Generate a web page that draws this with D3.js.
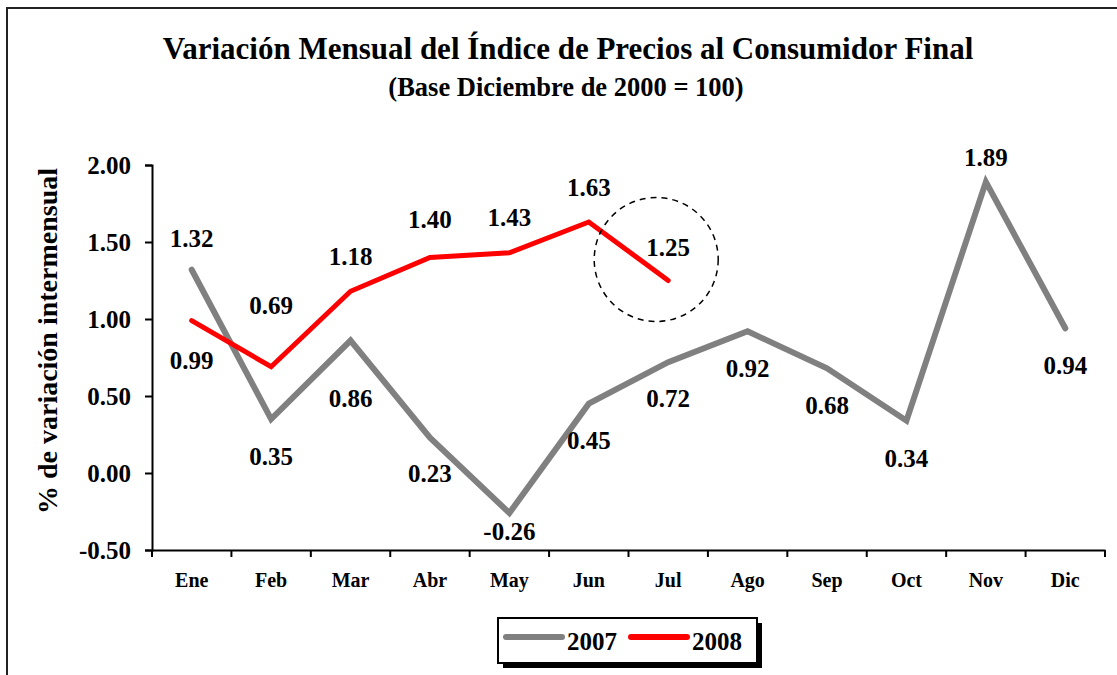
<!DOCTYPE html>
<html>
<head>
<meta charset="utf-8">
<script src="https://cdn.jsdelivr.net/npm/d3@7"></script>
<style>
  body { margin: 0; background: #fff; }
  svg, svg text { font-family: "Liberation Serif", "Times New Roman", serif; font-weight: bold; }
</style>
</head>
<body>
<svg id="svg" width="1117" height="675"></svg>
<script>
const months = ["Ene", "Feb", "Mar", "Abr", "May", "Jun", "Jul", "Ago", "Sep", "Oct", "Nov", "Dic"];
const values2007 = [1.32, 0.35, 0.86, 0.23, -0.26, 0.45, 0.72, 0.92, 0.68, 0.34, 1.89, 0.94];
const values2008 = [0.99, 0.69, 1.18, 1.40, 1.43, 1.63, 1.25];
const yTicks = [-0.5, 0, 0.5, 1, 1.5, 2];

// label baseline offsets from each point (px), to keep them clear of the lines
const offset2007 = [-23, 46, 66, 44, 27, 45, 45, 46, 46, 46, -16, 46];
const offset2008 = [48, -53, -26, -29, -27, -26, -25];

const fmt = d => d.toFixed(2);

const svg = d3.select("#svg");

// outer frame
svg.append("rect")
    .attr("x", 7).attr("y", 8)
    .attr("width", 1130).attr("height", 700)
    .attr("fill", "none")
    .attr("stroke", "#222")
    .attr("stroke-width", 2);

svg.append("text")
    .attr("x", 568).attr("y", 59)
    .attr("text-anchor", "middle")
    .attr("font-size", 31)
    .text("Variación Mensual del Índice de Precios al Consumidor Final");

svg.append("text")
    .attr("x", 566).attr("y", 96)
    .attr("text-anchor", "middle")
    .attr("font-size", 26.5)
    .text("(Base Diciembre de 2000 = 100)");

const x = d3.scaleBand().domain(months).range([152, 1105]);
const y = d3.scaleLinear().domain([-0.5, 2]).range([550, 165]);

const xAxis = svg.append("g")
    .attr("transform", "translate(0,550)")
    .call(d3.axisBottom(x).tickSize(0).tickPadding(23))
    .attr("font-family", null);
xAxis.select(".domain").attr("stroke", "#000").attr("stroke-width", 2);
xAxis.selectAll("text").attr("font-size", 20).attr("fill", "#000");

// x ticks between categories
svg.append("g")
    .selectAll("line")
    .data(months.concat(["_end"]))
    .join("line")
    .attr("x1", (d, i) => i < months.length ? x(d) : x.range()[1])
    .attr("x2", (d, i) => i < months.length ? x(d) : x.range()[1])
    .attr("y1", 550).attr("y2", 557)
    .attr("stroke", "#000").attr("stroke-width", 2);

const yAxis = svg.append("g")
    .attr("transform", "translate(152,0)")
    .call(d3.axisLeft(y).tickValues(yTicks).tickFormat(fmt).tickSize(7).tickPadding(14))
    .attr("font-family", null);
yAxis.select(".domain").attr("stroke", "#000").attr("stroke-width", 2);
yAxis.selectAll("line").attr("stroke", "#000").attr("stroke-width", 2);
yAxis.selectAll("text").attr("font-size", 25).attr("fill", "#000").attr("dy", "0.35em");

svg.append("text")
    .attr("transform", "translate(57,341) rotate(-90)")
    .attr("text-anchor", "middle")
    .attr("font-size", 28)
    .text("% de variación intermensual");

const line = d3.line()
    .x((d, i) => x(months[i]) + x.bandwidth() / 2)
    .y(d => y(d));

svg.append("path")
    .datum(values2007)
    .attr("d", line)
    .attr("fill", "none")
    .attr("stroke", "#808080")
    .attr("stroke-width", 6)
    .attr("stroke-linejoin", "miter")
    .attr("stroke-linecap", "round");

svg.append("path")
    .datum(values2008)
    .attr("d", line)
    .attr("fill", "none")
    .attr("stroke", "#ff0000")
    .attr("stroke-width", 5)
    .attr("stroke-linejoin", "miter")
    .attr("stroke-linecap", "round");

function labels(vals, offs) {
    svg.append("g")
        .selectAll("text")
        .data(vals)
        .join("text")
        .attr("x", (d, i) => x(months[i]) + x.bandwidth() / 2)
        .attr("y", (d, i) => y(d) + offs[i])
        .attr("text-anchor", "middle")
        .attr("font-size", 25)
        .text(fmt);
}
labels(values2007, offset2007);
labels(values2008, offset2008);

// dashed circle round the last 2008 value
const last = values2008.length - 1;
svg.append("circle")
    .attr("cx", x(months[last]) + x.bandwidth() / 2 - 12)
    .attr("cy", y(values2008[last]) - 21)
    .attr("r", 62)
    .attr("fill", "none")
    .attr("stroke", "#000")
    .attr("stroke-width", 1.5)
    .attr("stroke-dasharray", "6,5");

// legend
const legend = svg.append("g").attr("transform", "translate(498,618)");
legend.append("rect").attr("x", 5).attr("y", 5).attr("width", 259).attr("height", 45).attr("fill", "#000");
legend.append("rect").attr("width", 259).attr("height", 45).attr("fill", "#fff").attr("stroke", "#000").attr("stroke-width", 2);
const items = [{name: "2007", color: "#808080"}, {name: "2008", color: "#ff0000"}];
const item = legend.selectAll("g.item")
    .data(items)
    .join("g")
    .attr("class", "item")
    .attr("transform", (d, i) => `translate(${8 + i * 125},0)`);
item.append("line")
    .attr("x1", 0).attr("x2", 56)
    .attr("y1", 19).attr("y2", 19)
    .attr("stroke", d => d.color)
    .attr("stroke-width", 6)
    .attr("stroke-linecap", "round");
item.append("text")
    .attr("x", 61).attr("y", 32)
    .attr("font-size", 25)
    .text(d => d.name);
</script>
</body>
</html>
